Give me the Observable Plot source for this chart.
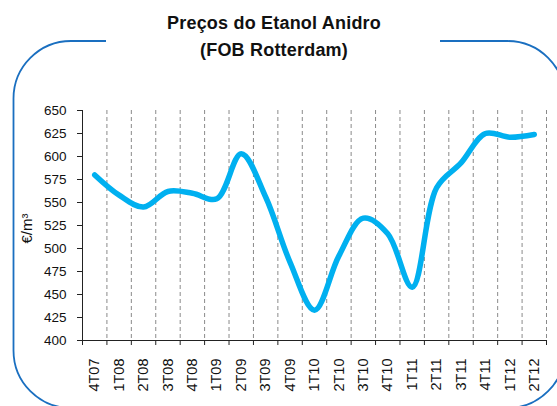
<!DOCTYPE html>
<html>
<head>
<meta charset="utf-8">
<script src="https://cdn.jsdelivr.net/npm/d3@7"></script>
<script src="https://cdn.jsdelivr.net/npm/@observablehq/plot@0.6"></script>
<style>
  html, body { margin: 0; padding: 0; background: #ffffff; }
  #wrap { position: relative; width: 557px; height: 406px; overflow: hidden; font-family: "Liberation Sans", Arial, sans-serif; }
  #frame { position: absolute; left: 0; top: 0; pointer-events: none; }
  #title { position: relative; height: 96px; box-sizing: border-box; padding-top: 10px; padding-right: 9px; text-align: center;
           font-weight: bold; font-size: 18px; line-height: 27px; color: #111; letter-spacing: 0.2px; }
  #chart { position: relative; }
</style>
</head>
<body>
<div id="wrap">
  <svg id="frame" width="557" height="406">
    <path d="M106,41 L71,41 A57.6,57.6 0 0 0 13.5,98.6 L13.5,350.4 A57.6,57.6 0 0 0 71,408 L507.4,408 A57.6,57.6 0 0 0 565,350.4 L565,98.6 A57.6,57.6 0 0 0 507.4,41 L440,41"
          fill="none" stroke="#1a6fc0" stroke-width="1.8"/>
  </svg>
  <div id="title">Preços do Etanol Anidro<br>(FOB Rotterdam)</div>
  <div id="chart"></div>
</div>
<script>
const labels = ["4T07","1T08","2T08","3T08","4T08","1T09","2T09","3T09","4T09","1T10","2T10","3T10","4T10","1T11","2T11","3T11","4T11","1T12","2T12"];
const values = [580, 558, 545, 562, 560, 554, 603, 556, 485, 433, 492, 533, 516, 458, 566, 593, 625, 621, 624];
const yTicks = [400, 425, 450, 475, 500, 525, 550, 575, 600, 625, 650];

const data = labels.map((q, i) => ({q, i: i + 0.5, v: values[i]}));
const bounds = d3.range(0, labels.length + 1);
const centers = labels.map((q, i) => i + 0.5);

const plot = Plot.plot({
  width: 557,
  height: 310,
  marginTop: 14,
  marginBottom: 66,
  marginLeft: 82,
  marginRight: 11,
  style: {fontFamily: "'Liberation Sans', Arial, sans-serif", fontSize: "13.5px", color: "#111", background: "transparent"},
  x: {type: "linear", domain: [0, labels.length]},
  y: {domain: [400, 650]},
  marks: [
    Plot.ruleX(bounds.slice(1), {stroke: "#8a8a8a", strokeWidth: 1, strokeDasharray: "4,3"}),
    Plot.axisY({ticks: yTicks, tickSize: 5, tickPadding: 11, tickFormat: d3.format("d"), stroke: "#222", fontSize: 13.5,
                label: null}),
    Plot.text(["€/m³"], {frameAnchor: "left", textAnchor: "middle", dx: -55, dy: 3, rotate: -90, fontSize: 15, fill: "#111"}),
    Plot.axisX({ticks: bounds, tickSize: 5, tickFormat: () => "", stroke: "#222", label: null}),
    Plot.axisX({ticks: centers, tickSize: 0, tickPadding: 18, tickFormat: d => labels[Math.floor(d)], tickRotate: -90,
                label: null, fontSize: 14.5}),
    Plot.ruleX([0], {stroke: "#222"}),
    Plot.ruleY([400], {stroke: "#222"}),
    Plot.line(data, {x: "i", y: "v", stroke: "#00b0f0", strokeWidth: 5.5, curve: "catmull-rom", strokeLinecap: "round", strokeLinejoin: "round"})
  ]
});
document.getElementById("chart").appendChild(plot);
</script>
</body>
</html>
